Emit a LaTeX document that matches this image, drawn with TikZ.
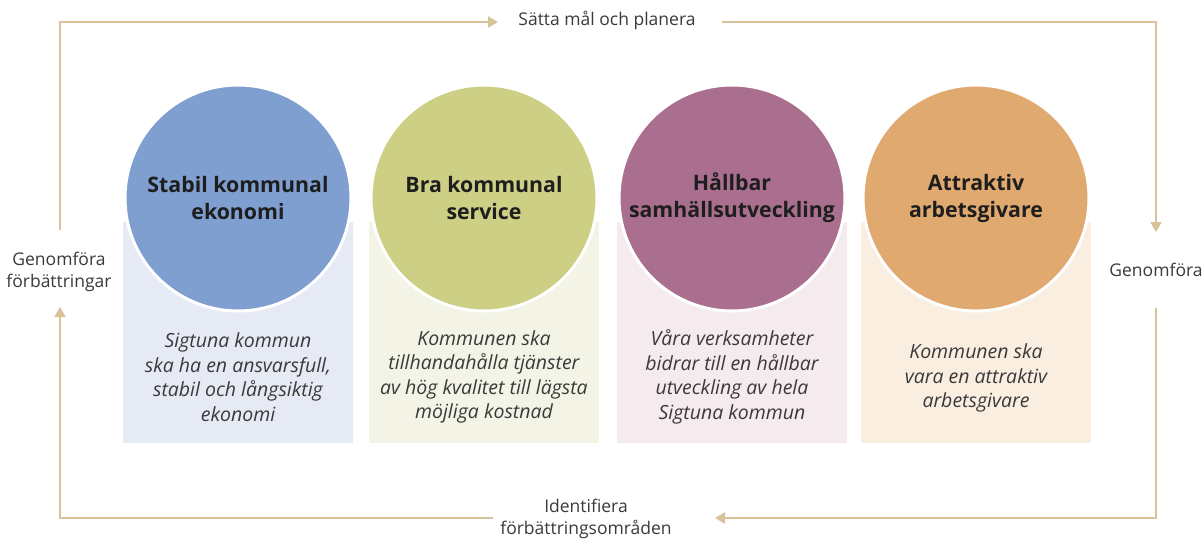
\documentclass[tikz,border=0pt]{standalone}
\usepackage{fontspec}
\setmainfont{Open Sans}
\usetikzlibrary{arrows.meta}
\definecolor{linec}{HTML}{D8C29A}
\definecolor{txt}{HTML}{3A3A3A}
\definecolor{ttl}{HTML}{1E1E1E}
\definecolor{cA}{HTML}{7F9FD0}
\definecolor{bA}{HTML}{E6EAF5}
\definecolor{cB}{HTML}{CDCF85}
\definecolor{bB}{HTML}{F3F3E6}
\definecolor{cC}{HTML}{AA6F8E}
\definecolor{bC}{HTML}{F5EAEE}
\definecolor{cD}{HTML}{DFA970}
\definecolor{bD}{HTML}{F9EEE0}
\begin{document}
\begin{tikzpicture}[x=1pt,y=-1pt,
  flow/.style={draw=linec,line width=2.2pt},
  tip/.style={-{Triangle[length=10pt,width=11pt]}},
  lbl/.style={text=txt,font=\fontsize{17.5}{21.5}\selectfont,align=center,inner sep=0pt},
  backbox/.style={anchor=north,minimum width=230,minimum height=221,inner sep=0pt},
  disc/.style={circle,draw=white,line width=3pt,minimum size=226,inner sep=0pt,
    text=ttl,font=\fontsize{21.3}{27}\selectfont\bfseries,align=center},
  desc/.style={text=txt,font=\fontsize{19.5}{24.5}\selectfont\itshape,align=center,inner sep=0pt}]
\useasboundingbox (0,0) rectangle (1204,539);
\fill[white] (0,0) rectangle (1204,539);
% labels of the cycle
\node[lbl] (plan) at (607,20) {Sätta mål och planera};
\node[lbl] (genom) at (1156,270) {Genomföra};
\node[lbl] (ident) at (586,519) {Identifiera\\förbättringsområden};
\node[lbl] (impr) at (59,272) {Genomföra\\förbättringar};
\coordinate (a1) at (60,230);
\coordinate (a2) at (498,22);
\coordinate (a3) at (722,22);
\coordinate (a4) at (1156,232);
\coordinate (a5) at (1156,308);
\coordinate (a6) at (715,518);
\coordinate (a7) at (493,518);
\coordinate (a8) at (60,307);
\draw[flow,tip] (a1) |- (a2);
\draw[flow,tip] (a3) -| (a4);
\draw[flow,tip] (a5) |- (a6);
\draw[flow,tip] (a7) -| (a8);
% boxes
\node[backbox,fill=bA] (boxA) at (238,222) {};
\node[backbox,fill=bB] (boxB) at (484,222) {};
\node[backbox,fill=bC] (boxC) at (732,222) {};
\node[backbox,fill=bD] (boxD) at (976,222) {};
% circles
\node[disc,fill=cA] (discA) at (238,198) {Stabil kommunal\\ekonomi};
\node[disc,fill=cB] (discB) at (484,198) {Bra kommunal\\service};
\node[disc,fill=cC] (discC) at (732,198) {Hållbar\\samhällsutveckling};
\node[disc,fill=cD] (discD) at (976,198) {Attraktiv\\arbetsgivare};
% descriptions
\node[desc] (dA) at (238,377) {Sigtuna kommun\\ska ha en ansvarsfull,\\stabil och långsiktig\\ekonomi};
\node[desc] (dB) at (484,377) {Kommunen ska\\tillhandahålla tjänster\\av hög kvalitet till lägsta\\möjliga kostnad};
\node[desc] (dC) at (732,377) {Våra verksamheter\\bidrar till en hållbar\\utveckling av hela\\Sigtuna kommun};
\node[desc] (dD) at (976,378) {Kommunen ska\\vara en attraktiv\\arbetsgivare};
\end{tikzpicture}
\end{document}
